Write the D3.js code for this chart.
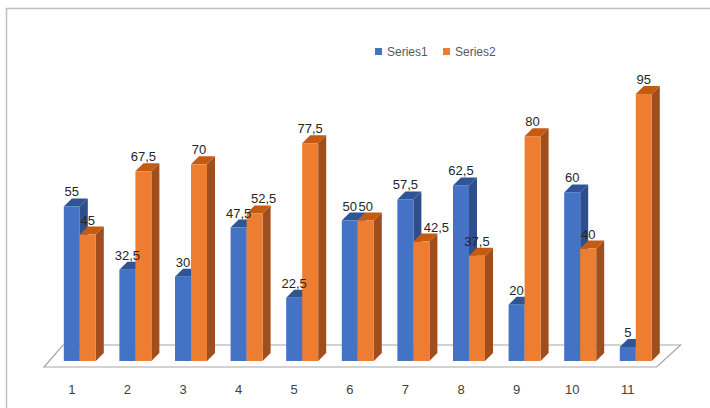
<!DOCTYPE html>
<html>
<head>
<meta charset="utf-8">
<script src="https://cdn.jsdelivr.net/npm/d3@7"></script>
<style>
body{margin:0;background:#fff;}
text{font-family:'Liberation Sans',Arial,sans-serif;}
</style>
</head>
<body>
<div id="root"></div>
<script>
// chart data
var categories=['1','2','3','4','5','6','7','8','9','10','11'];
var seriesNames=['Series1','Series2'];
var series1=[55,32.5,30,47.5,22.5,50,57.5,62.5,20,60,5];
var series2=[45,67.5,70,52.5,77.5,50,42.5,37.5,80,40,95];

var W=710,H=408;
var dep={x:8,y:-8};
var colors={
  Series1:{front:'#4472C4',top:'#2F5597',side:'#2E4E8C'},
  Series2:{front:'#ED7D31',top:'#C55A11',side:'#A04E1D'}
};
// excel pushed a couple of labels sideways to avoid overlaps
var labelNudge={'Series2-4':9,'Series2-7':15};

var svg=d3.select('#root').append('svg')
  .attr('width',W).attr('height',H);

// frame
svg.append('path')
  .attr('d','M6.5,408 L6.5,8.5 L710,8.5')
  .attr('fill','none').attr('stroke','#bfbfbf').attr('stroke-width',1.5);

var x=d3.scaleBand().domain(categories).range([52,663.6]).padding(0);
var xs=d3.scaleBand().domain(seriesNames).range([-16,16]);
var y=d3.scaleLinear().domain([0,100]).range([361,80]);

// floor
var fl=x.range()[0]-8, fr=x.range()[1]-7;
svg.append('path')
  .attr('d','M'+fl+',367 L'+fr+',367 L'+(fr+24)+',345 L'+(fl+19)+',345 Z')
  .attr('fill','#fff').attr('stroke','#a6a6a6').attr('stroke-width',1.2);

var rows=[];
categories.forEach(function(c,i){
  rows.push({cat:c,s:'Series1',v:series1[i]});
  rows.push({cat:c,s:'Series2',v:series2[i]});
});

var bars=svg.selectAll('.bar').data(rows).enter().append('g').attr('class','bar');

bars.each(function(d){
  var g=d3.select(this);
  var x0=x(d.cat)+x.bandwidth()/2+xs(d.s), bw=xs.bandwidth();
  var yt=y(d.v), yb=y(0);
  var c=colors[d.s];
  // side
  g.append('path')
    .attr('d','M'+(x0+bw)+','+yt+' L'+(x0+bw+dep.x)+','+(yt+dep.y)+' L'+(x0+bw+dep.x)+','+(yb+dep.y)+' L'+(x0+bw)+','+yb+' Z')
    .attr('fill',c.side);
  // top
  g.append('path')
    .attr('d','M'+x0+','+yt+' L'+(x0+dep.x)+','+(yt+dep.y)+' L'+(x0+bw+dep.x)+','+(yt+dep.y)+' L'+(x0+bw)+','+yt+' Z')
    .attr('fill',c.top);
  // front
  g.append('rect').attr('x',x0).attr('y',yt).attr('width',bw).attr('height',yb-yt).attr('fill',c.front);
});

// data labels, on top of all bars
svg.selectAll('.dl').data(rows).enter().append('text').attr('class','dl')
  .attr('x',function(d){
    var n=labelNudge[d.s+'-'+d.cat]||0;
    return x(d.cat)+x.bandwidth()/2+xs(d.s)+xs.bandwidth()/2+n})
  .attr('y',function(d){return y(d.v)-10})
  .attr('text-anchor','middle')
  .attr('font-size',13).attr('fill','#262626')
  .text(function(d){return String(d.v).replace('.',',')});

// x axis labels
svg.selectAll('.xl').data(categories).enter().append('text').attr('class','xl')
  .attr('x',function(d){return x(d)+x.bandwidth()/2-8})
  .attr('y',394)
  .attr('text-anchor','middle')
  .attr('font-size',13).attr('fill','#404040')
  .text(function(d){return d});

// legend
var leg=svg.selectAll('.leg').data(seriesNames).enter().append('g').attr('class','leg')
  .attr('transform',function(d,i){return 'translate('+(375+i*68)+',48)'});
leg.append('rect').attr('width',7).attr('height',7).attr('fill',function(d){return colors[d].front});
leg.append('text').attr('x',12).attr('y',8).attr('font-size',12).attr('fill','#595959').text(function(d){return d});
</script>
</body>
</html>
